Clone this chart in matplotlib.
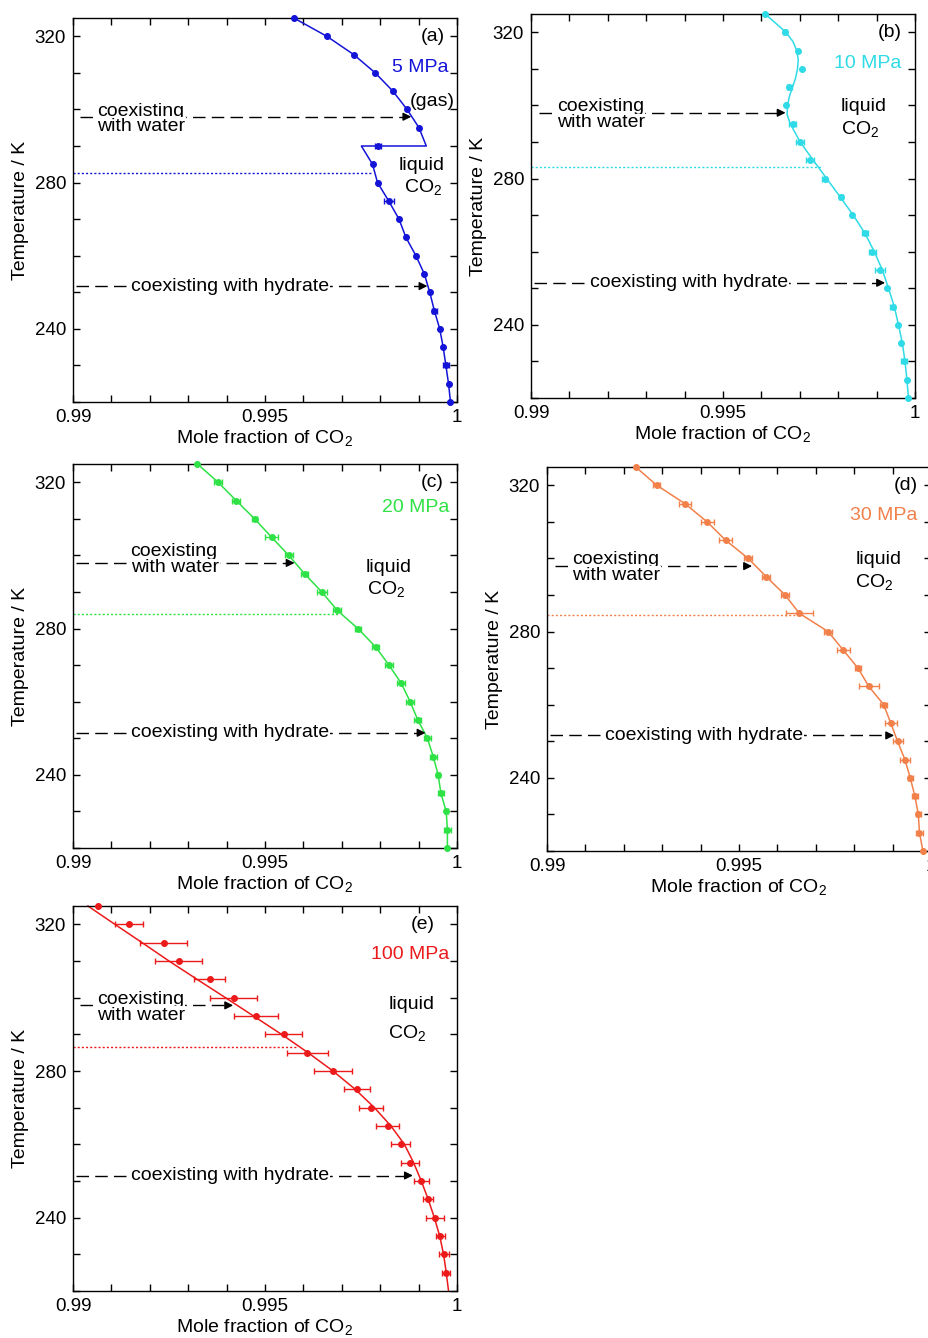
import matplotlib
matplotlib.use('Agg')
import matplotlib.pyplot as plt
from matplotlib.ticker import FixedLocator, FixedFormatter, MultipleLocator

plt.rcParams['font.family'] = ['Liberation Sans', 'DejaVu Sans']
plt.rcParams['font.size'] = 14
plt.rcParams['mathtext.fontset'] = 'custom'
plt.rcParams['mathtext.rm'] = 'Liberation Sans'

# temperatures of the simulation points (K)
temps = [325, 320, 315, 310, 305, 300, 295, 290, 285, 280, 275,
         270, 265, 260, 255, 250, 245, 240, 235, 230, 225, 220]
temps_e = [325, 320, 315, 310, 305, 300, 295, 290, 285, 280, 275,
           270, 265, 260, 255, 250, 245, 240, 235, 230, 225]

# (a) 5 MPa
x_a = [0.99575, 0.99661, 0.99731, 0.99787, 0.99833, 0.99870, 0.99901, 0.99794,
       0.99780, 0.99793, 0.99822, 0.99849, 0.99867, 0.99893, 0.99915, 0.99929,
       0.99941, 0.99955, 0.99964, 0.99971, 0.99978, 0.99983]
err_a = [0, 0, 0, 0, 0, 0, 0, 0.00007, 0, 0, 0.00013, 0, 0, 0, 0, 0,
         0.00007, 0, 0, 0.00007, 0, 0]
line_x_a = [0.99575, 0.99661, 0.99731, 0.99787, 0.99833, 0.99870, 0.99901, 0.99920,
            0.99751, 0.99780, 0.99793, 0.99822, 0.99849, 0.99867, 0.99893, 0.99915,
            0.99929, 0.99941, 0.99955, 0.99964, 0.99971, 0.99978, 0.99983]
line_t_a = [325, 320, 315, 310, 305, 300, 295, 290, 290, 285, 280, 275, 270,
            265, 260, 255, 250, 245, 240, 235, 230, 225, 220]

# (b) 10 MPa
x_b = [0.99610, 0.99662, 0.99695, 0.99705, 0.99673, 0.99663, 0.99682, 0.99701,
       0.99727, 0.99765, 0.99807, 0.99836, 0.99870, 0.99889, 0.99910, 0.99927,
       0.99942, 0.99957, 0.99964, 0.99971, 0.99978, 0.99983]
err_b = [0, 0.00005, 0, 0, 0.00007, 0, 0.00009, 0.0001, 0.0001, 0.00007, 0.00005,
         0, 0.00007, 0.00009, 0.00013, 0, 0.00007, 0, 0, 0.00007, 0, 0]
line_x_b = [0.99610, 0.99637, 0.99664, 0.99682, 0.99692, 0.99696, 0.99694, 0.99689,
            0.99681, 0.99673, 0.99668, 0.99667, 0.99675, 0.99701,
            0.99735, 0.99770, 0.99805, 0.99839, 0.99870, 0.99894, 0.99915, 0.99931,
            0.99946, 0.99957, 0.99967, 0.99974, 0.99979, 0.99983]
line_t_b = [325, 322.5, 320, 317.5, 315, 312.5, 310, 307.5, 305, 302.5, 300,
            297.5, 295, 290, 285, 280, 275, 270, 265, 260, 255, 250,
            245, 240, 235, 230, 225, 220]

# (c) 20 MPa
x_c = [0.99324, 0.99378, 0.99425, 0.99473, 0.99517, 0.99562, 0.99603, 0.99648,
       0.99688, 0.99742, 0.99788, 0.99823, 0.99855, 0.99878, 0.99898, 0.99923,
       0.99938, 0.99951, 0.99958, 0.99972, 0.99975, 0.99975]
err_c = [0, 0.0001, 0.0001, 0.00007, 0.00016, 0.0001, 0.0001, 0.00013, 0.0001,
         0.00007, 0.00009, 0.0001, 0.0001, 0.0001, 0.00009, 0.0001, 0.00009,
         0.00005, 0.00007, 0.00004, 0.00009, 0]

# (d) 30 MPa
x_d = [0.99231, 0.99286, 0.99359, 0.99417, 0.99465, 0.99524, 0.99571, 0.99620,
       0.99657, 0.99732, 0.99771, 0.99810, 0.99838, 0.99877, 0.99895, 0.99913,
       0.99932, 0.99946, 0.99958, 0.99967, 0.99970, 0.99979]
err_d = [0, 0.00009, 0.00016, 0.00017, 0.00017, 0.0001, 0.0001, 0.0001, 0.00035,
         0.0001, 0.00017, 0.00007, 0.00026, 0.00009, 0.00016, 0.00013, 0.00013,
         0.00007, 0.00007, 0.00006, 0.00009, 0]

# (e) 100 MPa
x_e = [0.99066, 0.99146, 0.99236, 0.99275, 0.99356, 0.99419, 0.99477, 0.99549,
       0.99610, 0.99677, 0.99740, 0.99776, 0.99820, 0.99853, 0.99878, 0.99907,
       0.99924, 0.99942, 0.99957, 0.99966, 0.99972]
err_e = [0, 0.00036, 0.00061, 0.00061, 0.00041, 0.00061, 0.00058, 0.00048,
         0.00054, 0.00049, 0.00033, 0.0003, 0.0003, 0.00024, 0.00023, 0.0002,
         0.00013, 0.00023, 0.00011, 0.00012, 0.0001]
line_x_e = [0.99039, 0.99109, 0.99180, 0.99250, 0.99323, 0.99397, 0.99470, 0.99543,
            0.99612, 0.99677, 0.99735, 0.99785, 0.99828, 0.99863, 0.99887, 0.99907,
            0.99925, 0.99941, 0.99955, 0.99965, 0.99972, 0.99978]

W, H = 929, 1338
fig = plt.figure(figsize=(W / 100, H / 100), dpi=100)


def add_panel(left, top, bottom):
    ax = fig.add_axes([left / W, 1 - bottom / H, 384 / W, (bottom - top) / H])
    ax.set_xlim(0.99, 1.0)
    ax.set_ylim(220, 325)
    ax.xaxis.set_major_locator(FixedLocator([0.99, 0.995, 1.0]))
    ax.xaxis.set_major_formatter(FixedFormatter(['0.99', '0.995', '1']))
    ax.xaxis.set_minor_locator(MultipleLocator(0.001))
    ax.yaxis.set_major_locator(FixedLocator([240, 280, 320]))
    ax.yaxis.set_minor_locator(MultipleLocator(10))
    ax.tick_params(which='both', direction='in', top=True, right=True,
                   length=5, width=1, labelsize=13.5, pad=5)
    for s in ax.spines.values():
        s.set_linewidth(1)
    ax.set_xlabel('Mole fraction of CO$_2$', labelpad=2)
    ax.set_ylabel('Temperature / K', labelpad=4)
    return ax


def draw_data(ax, color, xs, ts, errs, lx, lt):
    ax.plot(lx, lt, color=color, lw=1.1, zorder=2, clip_on=False)
    ax.errorbar(xs, ts, xerr=errs, fmt='o', ms=4, color=color, ecolor=color,
                elinewidth=1, capsize=2.5, capthick=1, zorder=3, clip_on=False)


def dotted(ax, color, t, xend):
    ax.plot([0.99, xend], [t, t], color=color, lw=1, ls=(0, (1.5, 1.5)), zorder=1)


def arrow(ax, x0, x1, t):
    ax.plot([x0, x1 - 0.0001], [t, t], color='k', lw=1, ls=(0, (9, 4.5)), zorder=1)
    ax.annotate('', xy=(x1, t), xytext=(x1 - 0.0002, t),
                arrowprops=dict(arrowstyle='-|>', color='k', lw=1,
                                mutation_scale=12, shrinkA=0, shrinkB=0))


def note(ax, x, t, s, ha='left'):
    ax.text(x, t, s, ha=ha, va='center', zorder=4,
            bbox=dict(facecolor='white', edgecolor='none', pad=0.5))


def labels(ax, color, tag, tag_x, press, press_x, press_t, liq_x, liq_t, co2_x, co2_t):
    ax.text(tag_x, 320, tag, ha='right', va='center')
    ax.text(press_x, press_t, press, ha='right', va='center', color=color)
    ax.text(liq_x, liq_t, 'liquid', ha='center', va='center')
    ax.text(co2_x, co2_t, 'CO$_2$', ha='center', va='center')


# (a)
c_a = '#1414d8'
ax = add_panel(73, 18, 402)
draw_data(ax, c_a, x_a, temps, err_a, line_x_a, line_t_a)
dotted(ax, c_a, 282.5, 0.99780)
arrow(ax, 0.99017, 0.99881, 298.0)
note(ax, 0.99063, 299.5, 'coexisting')
note(ax, 0.99063, 295.4, 'with water')
arrow(ax, 0.99009, 0.99923, 251.7)
note(ax, 0.99150, 251.7, 'coexisting with hydrate')
labels(ax, c_a, '(a)', 0.99968, '5 MPa', 0.99979, 311.5,
       0.99907, 284.7, 0.99911, 278.6)
ax.text(0.99936, 302.2, '(gas)', ha='center', va='center')

# (b)
c_b = '#2fdbe6'
ax = add_panel(531, 14, 398)
draw_data(ax, c_b, x_b, temps, err_b, line_x_b, line_t_b)
dotted(ax, c_b, 283.1, 0.99759)
arrow(ax, 0.99022, 0.99663, 298.0)
note(ax, 0.99068, 299.6, 'coexisting')
note(ax, 0.99068, 295.2, 'with water')
arrow(ax, 0.99007, 0.99922, 251.5)
note(ax, 0.99153, 251.5, 'coexisting with hydrate')
labels(ax, c_b, '(b)', 0.99965, '10 MPa', 0.99965, 311.6,
       0.99866, 299.6, 0.99857, 293.4)

# (c)
c_c = '#2ee246'
ax = add_panel(73, 464, 848)
draw_data(ax, c_c, x_c, temps, err_c, x_c, temps)
dotted(ax, c_c, 284.0, 0.99690)
arrow(ax, 0.99009, 0.99577, 297.95)
note(ax, 0.99150, 301.1, 'coexisting')
note(ax, 0.99150, 296.6, 'with water')
arrow(ax, 0.99009, 0.99918, 251.5)
note(ax, 0.99150, 251.5, 'coexisting with hydrate')
labels(ax, c_c, '(c)', 0.99965, '20 MPa', 0.99979, 313.0,
       0.99823, 296.6, 0.99816, 290.7)

# (d)
c_d = '#f2804a'
ax = add_panel(547, 467, 851)
draw_data(ax, c_d, x_d, temps, err_d, x_d, temps)
dotted(ax, c_d, 284.6, 0.99670)
arrow(ax, 0.99020, 0.99534, 297.9)
note(ax, 0.99065, 299.7, 'coexisting')
note(ax, 0.99065, 295.3, 'with water')
arrow(ax, 0.99009, 0.99904, 251.6)
note(ax, 0.99151, 251.6, 'coexisting with hydrate')
labels(ax, c_d, '(d)', 0.99965, '30 MPa', 0.99965, 311.7,
       0.99863, 299.7, 0.99852, 293.3)

# (e)
c_e = '#ec1a1a'
ax = add_panel(73, 906, 1291)
draw_data(ax, c_e, x_e, temps_e, err_e, line_x_e, temps)
dotted(ax, c_e, 286.5, 0.99582)
arrow(ax, 0.99017, 0.99417, 297.9)
note(ax, 0.99063, 299.5, 'coexisting')
note(ax, 0.99063, 295.1, 'with water')
arrow(ax, 0.99009, 0.99885, 251.5)
note(ax, 0.99150, 251.5, 'coexisting with hydrate')
labels(ax, c_e, '(e)', 0.99942, '100 MPa', 0.99979, 311.7,
       0.99881, 298.1, 0.99870, 290.2)

fig.savefig('out.png', dpi=100)
